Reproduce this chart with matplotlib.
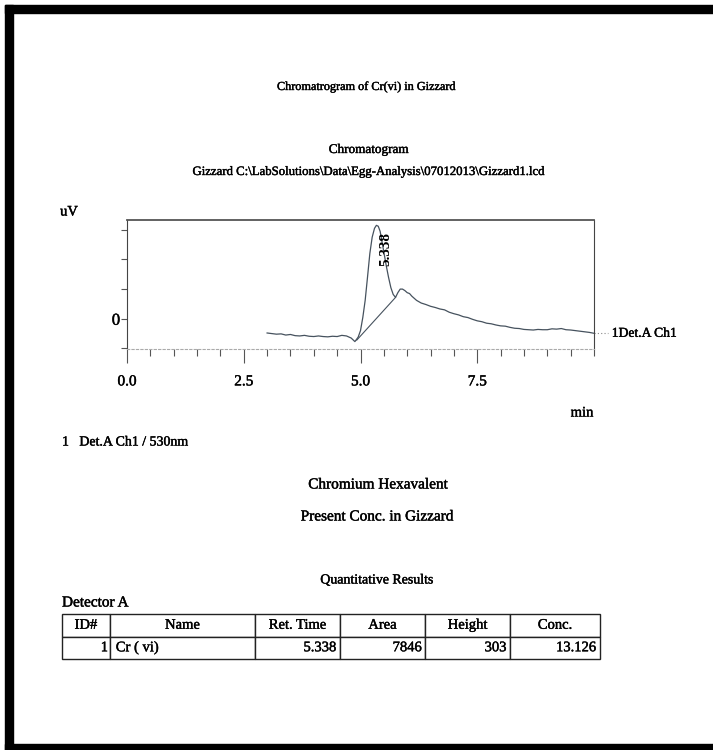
import matplotlib
matplotlib.use("Agg")
import matplotlib.pyplot as plt
import matplotlib.patheffects as pe
from matplotlib.patches import Rectangle
from matplotlib.ticker import MultipleLocator, FixedLocator

plt.rcParams['font.family'] = ['Liberation Serif', 'DejaVu Serif']

# ---------------- data ----------------
time_min = [3.0, 3.1, 3.2, 3.3, 3.4, 3.5, 3.6, 3.7, 3.8, 3.9, 4.0, 4.1, 4.2, 4.3,
            4.4, 4.5, 4.6, 4.7, 4.8, 4.88, 4.95, 5.0, 5.05, 5.1, 5.15, 5.2, 5.25,
            5.3, 5.34, 5.38, 5.42, 5.46, 5.5, 5.55, 5.6, 5.65, 5.7, 5.75, 5.8,
            5.85, 5.9, 5.95, 6.0, 6.05, 6.1, 6.2, 6.3, 6.4, 6.5, 6.6, 6.7, 6.8,
            6.9, 7.0, 7.1, 7.2, 7.3, 7.4, 7.5, 7.6, 7.7, 7.8, 7.9, 8.0, 8.1, 8.2,
            8.3, 8.4, 8.5, 8.6, 8.7, 8.8, 8.9, 9.0, 9.1, 9.2, 9.3, 9.4, 9.5, 9.6,
            9.7, 9.8, 9.9, 10.0]
signal_uV = [-0.48, -0.50, -0.52, -0.51, -0.55, -0.53, -0.57, -0.58, -0.56, -0.59,
             -0.60, -0.58, -0.60, -0.61, -0.59, -0.60, -0.56, -0.58, -0.65, -0.77,
             -0.62, -0.40, 0.05, 0.62, 1.40, 2.20, 2.75, 3.05, 3.15, 3.12, 2.95,
             2.60, 2.25, 1.80, 1.40, 1.05, 0.82, 0.72, 0.88, 1.00, 1.00, 0.95,
             0.88, 0.85, 0.76, 0.62, 0.53, 0.48, 0.42, 0.38, 0.33, 0.30, 0.22,
             0.17, 0.13, 0.07, 0.04, -0.02, -0.07, -0.10, -0.15, -0.17, -0.21,
             -0.24, -0.25, -0.29, -0.32, -0.33, -0.36, -0.37, -0.38, -0.36, -0.37,
             -0.37, -0.34, -0.35, -0.33, -0.37, -0.38, -0.40, -0.42, -0.44, -0.46,
             -0.49]
baseline_t = [4.92, 5.75]
baseline_v = [-0.72, 0.72]
peak_time = 5.338
peak_label = "5.338"

x_major = [0.0, 2.5, 5.0, 7.5]
x_major_labels = ["0.0", "2.5", "5.0", "7.5"]
y_ticks = [-1, 0, 1, 2, 3]
y_tick_labels = ["", "0", "", "", ""]

table_cols = ["ID#", "Name", "Ret. Time", "Area", "Height", "Conc."]
table_rows = [["1", "Cr ( vi)", "5.338", "7846", "303", "13.126"]]

# ---------------- figure ----------------
W, H = 713, 750
fig = plt.figure(figsize=(W / 100, H / 100), dpi=100)
fig.patch.set_facecolor('white')

ink = '#000000'
bold_fx = [pe.withStroke(linewidth=0.3, foreground=ink)]


def fx(px):
    return px / W


def fy(py):
    return 1 - py / H


def ftext(x, y, s, size, ha='center'):
    return fig.text(fx(x), fy(y), s, ha=ha, va='center', fontsize=size, color=ink,
                    path_effects=bold_fx)


# page frame (top, left, bottom)
fig.patches.append(Rectangle((fx(5), fy(13)), fx(713) - fx(5), fy(5) - fy(13),
                             transform=fig.transFigure, color='black', zorder=0))
fig.patches.append(Rectangle((fx(5), fy(750)), fx(13) - fx(5), fy(5) - fy(750),
                             transform=fig.transFigure, color='black', zorder=0))
fig.patches.append(Rectangle((fx(5), fy(750)), fx(713) - fx(5), fy(744) - fy(750),
                             transform=fig.transFigure, color='black', zorder=0))

ftext(367, 87, "Chromatrogram of Cr(vi) in Gizzard", 8.8)
ftext(369, 150, "Chromatogram", 9.5)
ftext(368, 172, "Gizzard C:\\LabSolutions\\Data\\Egg-Analysis\\07012013\\Gizzard1.lcd", 9.2)
ftext(69, 212, "uV", 10.5)

# ---------------- chromatogram axes ----------------
ax_l, ax_r, ax_t, ax_b = 127, 594, 220, 349
ax = fig.add_axes([fx(ax_l), fy(ax_b), fx(ax_r) - fx(ax_l), fy(ax_t) - fy(ax_b)])
line_col = '#46525e'
ax.plot(time_min, signal_uV, color=line_col, lw=0.9)
ax.plot(baseline_t, baseline_v, color=line_col, lw=0.8)
ax.set_xlim(0, 10)
ax.set_ylim(-1.02, 3.33)

ax.xaxis.set_major_locator(FixedLocator(x_major))
ax.set_xticklabels(x_major_labels)
ax.xaxis.set_minor_locator(MultipleLocator(0.5))
ax.set_yticks(y_ticks)
ax.set_yticklabels(y_tick_labels)
ax.tick_params(axis='x', which='major', direction='out', length=10, width=0.8,
               color='#555555', labelsize=11, pad=9, labelcolor=ink)
ax.tick_params(axis='x', which='minor', direction='out', length=5, width=0.8,
               color='#555555')
ax.tick_params(axis='y', direction='out', length=4, width=0.8, color='#555555',
               labelsize=12, pad=1, labelcolor=ink)
for lab in ax.get_xticklabels() + ax.get_yticklabels():
    lab.set_path_effects(bold_fx)
for s in ['left', 'right']:
    ax.spines[s].set_color('#444444')
    ax.spines[s].set_linewidth(0.8)
ax.spines['top'].set_color('#555555')
ax.spines['top'].set_linewidth(1.3)
ax.spines['top'].set_linestyle((0, (3, 1)))
ax.spines['bottom'].set_color('#aaaaaa')
ax.spines['bottom'].set_linewidth(0.8)
ax.spines['bottom'].set_linestyle((0, (2, 2)))

ax.text(peak_time + 0.2, 2.35, peak_label, rotation=90, ha='center', va='center',
        fontsize=11, color=ink, fontweight='bold')

# dotted leader to channel label
end_y = signal_uV[-1]
ax.plot([10.0, 10.3], [end_y, end_y], color='#888888', lw=0.8, ls=(0, (1, 2)),
        clip_on=False)
ax.text(10.38, end_y, "1Det.A Ch1", ha='left', va='center', fontsize=9.8, color=ink,
        clip_on=False, path_effects=bold_fx)

ftext(582, 413, "min", 10.5)

# ---------------- lower texts ----------------
ftext(62, 442, "1   Det.A Ch1 / 530nm", 10, ha='left')
ftext(378, 485, "Chromium Hexavalent", 11)
ftext(377, 517, "Present Conc. in Gizzard", 11)
ftext(377, 580, "Quantitative Results", 10)
ftext(62, 603, "Detector A", 11, ha='left')

# ---------------- table ----------------
t_l, t_r, t_t, t_b = 62, 600, 614, 659
ax_tab = fig.add_axes([fx(t_l), fy(t_b), fx(t_r) - fx(t_l), fy(t_t) - fy(t_b)])
ax_tab.axis('off')
col_w = [48, 145, 85, 85, 85, 90]
tot = sum(col_w)
tbl = ax_tab.table(cellText=table_rows, colLabels=table_cols,
                   colWidths=[w / tot for w in col_w], bbox=[0, 0, 1, 1],
                   cellLoc='center')
tbl.auto_set_font_size(False)
for (r, c), cell in tbl.get_celld().items():
    cell.set_edgecolor('#222222')
    cell.set_linewidth(1.0)
    cell.PAD = 0.04
    txt = cell.get_text()
    txt.set_fontsize(10.5)
    txt.set_color(ink)
    txt.set_path_effects(bold_fx)
    if r == 1:
        txt.set_ha('left' if c == 1 else 'right')

fig.savefig("out.png", dpi=100, facecolor='white')
